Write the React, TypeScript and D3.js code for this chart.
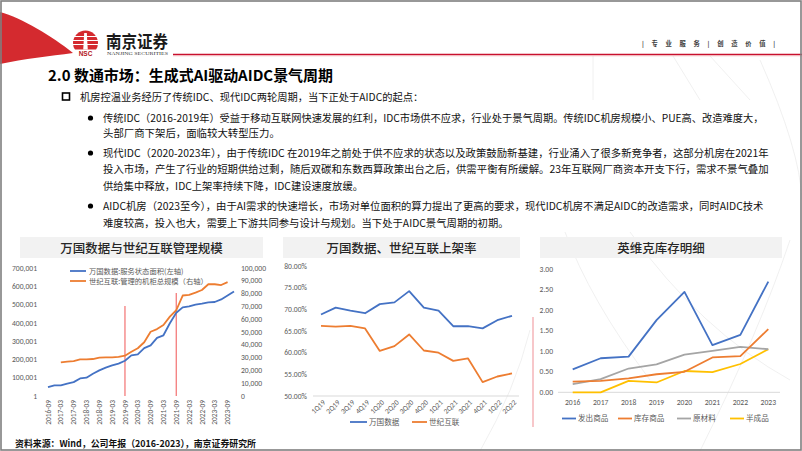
import React, { useEffect } from 'react';
import * as d3 from 'd3';

const FONT = '"Noto Sans CJK SC", "Noto Sans", sans-serif';
const LATIN = 'Calibri, "Liberation Sans", "Noto Sans", sans-serif';

// ---------- Chart 1: 万国数据与世纪互联管理规模 ----------
const c1Quarters = [
  '2016-09', '2016-12', '2017-03', '2017-06', '2017-09', '2017-12', '2018-03', '2018-06',
  '2018-09', '2018-12', '2019-03', '2019-06', '2019-09', '2019-12', '2020-03', '2020-06',
  '2020-09', '2020-12', '2021-03', '2021-06', '2021-09', '2021-12', '2022-03', '2022-06',
  '2022-09', '2022-12', '2023-03', '2023-06', '2023-09', '2023-12',
];
const c1TickLabels = [
  '2016-09', '2017-03', '2017-09', '2018-03', '2018-09', '2019-03', '2019-09', '2020-03',
  '2020-09', '2021-03', '2021-09', '2022-03', '2022-09', '2023-03', '2023-09',
];
// 万国数据: 服务状态面积 (左轴, 平方米)
const c1Wanguo = [
  48000, 58000, 58000, 68000, 76000, 96000, 100000, 122000,
  140000, 155000, 167000, 177000, 193000, 222000, 228000, 262000,
  277000, 318000, 332000, 398000, 455000, 485000, 490000, 500000,
  505000, 512000, 514000, 528000, 550000, 572000,
];
// 世纪互联: 管理的机柜总规模 (右轴, 个)
const c1Century = [
  null, null, 26300, 26800, 27300, 28600, 28600, 28900,
  30000, 30200, 30200, 30500, 31500, 34600, 37300, 42000,
  50200, 52300, 55500, 62000, 67000, 78500, 79000, 80800,
  82800, 87300, 87300, 86700, 89000, null,
];
const c1LeftTicks = [1, 100001, 200001, 300001, 400001, 500001, 600001, 700001];
const c1RightTicks = [0, 10000, 20000, 30000, 40000, 50000, 60000, 70000, 80000, 90000, 100000];
const c1Markers = ['2019-09', '2021-09'];
const c1Series = ['万国数据:服务状态面积(左轴)', '世纪互联:管理的机柜总规模（右轴）'];

// ---------- Chart 2: 万国数据、世纪互联上架率 ----------
const c2Quarters = ['1Q19', '2Q19', '3Q19', '4Q19', '1Q20', '2Q20', '3Q20', '4Q20', '1Q21', '2Q21', '3Q21', '4Q21', '1Q22', '2Q22'];
const c2Wanguo = [68.8, 70.4, 69.7, 69.1, 71.2, 71.6, 74.2, 70.4, 69.7, 66.1, 66.1, 65.6, 67.5, 68.5];
const c2Century = [66.2, 66.0, 66.2, 65.6, 60.4, 61.5, 64.2, 60.5, 60.0, 58.1, 58.7, 53.2, 54.5, 55.2];
const c2Ticks = [50, 55, 60, 65, 70, 75, 80];
const c2Series = ['万国数据', '世纪互联'];

// ---------- Chart 3: 英维克库存明细 ----------
const c3Years = ['2016', '2017', '2018', '2019', '2020', '2021', '2022', '2023'];
const c3Shipped = [0.56, 0.83, 0.87, 1.76, 2.45, 1.15, 1.40, 2.70];
const c3Stock = [0.26, 0.28, 0.34, 0.44, 0.50, 0.85, 0.88, 1.54];
const c3Raw = [0.20, 0.32, 0.58, 0.68, 0.92, 1.01, 1.11, 1.05];
const c3Semi = [0.00, 0.00, 0.28, 0.24, 0.52, 0.49, 0.69, 1.05];
const c3Ticks = [0, 0.5, 1, 1.5, 2, 2.5, 3];
const c3Series = ['发出商品', '库存商品', '原材料', '半成品'];

// ---------- Texts ----------
const headerRight = '|  专  业  服  务  |  创  造  价  值  |';
const pageTitle = '2.0 数通市场：生成式AI驱动AIDC景气周期';
const bodyLines = [
  '机房控温业务经历了传统IDC、现代IDC两轮周期，当下正处于AIDC的起点：',
  '传统IDC（2016-2019年）受益于移动互联网快速发展的红利，IDC市场供不应求，行业处于景气周期。传统IDC机房规模小、PUE高、改造难度大，',
  '头部厂商下架后，面临较大转型压力。',
  '现代IDC（2020-2023年），由于传统IDC 在2019年之前处于供不应求的状态以及政策鼓励新基建，行业涌入了很多新竞争者，这部分机房在2021年',
  '投入市场，产生了行业的短期供给过剩，随后双碳和东数西算政策出台之后，供需平衡有所缓解。23年互联网厂商资本开支下行，需求不景气叠加',
  '供给集中释放，IDC上架率持续下降，IDC建设速度放缓。',
  'AIDC机房（2023至今），由于AI需求的快速增长，市场对单位面积的算力提出了更高的要求，现代IDC机房不满足AIDC的改造需求，同时AIDC技术',
  '难度较高，投入也大，需要上下游共同参与设计与规划。当下处于AIDC景气周期的初期。',
];
const sourceText = '资料来源：Wind，公司年报（2016-2023），南京证券研究所';

const BLUE = '#4472C4';
const ORANGE = '#ED7D31';
const GRAY = '#A5A5A5';
const YELLOW = '#FFC000';
const AXIS_TXT = '#595959';

function fwCount(s: string) {
  let n = 0;
  for (const ch of s) n += ch.charCodeAt(0) < 256 ? 0.5 : 1;
  return n;
}

function Chart1() {
  const x = d3.scalePoint<string>().domain(c1Quarters).range([48, 234]);
  const yL = d3.scaleLinear().domain([1, 700001]).range([396, 268]);
  const yR = d3.scaleLinear().domain([0, 100000]).range([396, 268]);
  const fmt = d3.format(',');
  const lineL = d3.line<number>().x((_, i) => x(c1Quarters[i])!).y((d) => yL(d));
  const lineR = d3
    .line<number | null>()
    .defined((d) => d != null)
    .x((_, i) => x(c1Quarters[i])!)
    .y((d) => yR(d as number));
  return (
    <g>
      <rect x={20} y={237} width={243} height={21} fill="#f2f2f2" />
      <text x={141.5} y={252.5} textAnchor="middle" fontSize={12.5} fontFamily={FONT} fill="#262626" fontWeight={500}>
        万国数据与世纪互联管理规模
      </text>
      {c1LeftTicks.map((t) => (
        <text key={'l' + t} x={37} y={yL(t)} dy="0.35em" textAnchor="end" fontSize={7.6} fontFamily={LATIN} fill={AXIS_TXT}>
          {fmt(t)}
        </text>
      ))}
      {c1RightTicks.map((t) => (
        <text key={'r' + t} x={241} y={yR(t)} dy="0.35em" textAnchor="start" fontSize={7.6} fontFamily={LATIN} fill={AXIS_TXT}>
          {fmt(t)}
        </text>
      ))}
      {c1TickLabels.map((t) => (
        <text
          key={'x' + t}
          transform={`translate(${x(t)},400) rotate(-90)`}
          textAnchor="end"
          dy="0.35em"
          fontSize={7.4}
          fontFamily={LATIN}
          fill={AXIS_TXT}
        >
          {t}
        </text>
      ))}
      {c1Markers.map((m, i) => (
        <line key={m} x1={x(m)} x2={x(m)} y1={i === 0 ? 306 : 293} y2={396} stroke="#f47c7c" strokeWidth={1.3} />
      ))}
      <path d={lineR(c1Century) || ''} fill="none" stroke={ORANGE} strokeWidth={1.8} strokeLinejoin="round" />
      <path d={lineL(c1Wanguo) || ''} fill="none" stroke={BLUE} strokeWidth={1.8} strokeLinejoin="round" />
      <line x1={70} x2={86} y1={271} y2={271} stroke={BLUE} strokeWidth={1.8} />
      <text x={89} y={271} dy="0.35em" fontSize={7.3} fontFamily={FONT} fill={AXIS_TXT}>{c1Series[0]}</text>
      <line x1={70} x2={86} y1={281} y2={281} stroke={ORANGE} strokeWidth={1.8} />
      <text x={89} y={281} dy="0.35em" fontSize={7.3} fontFamily={FONT} fill={AXIS_TXT}>{c1Series[1]}</text>
    </g>
  );
}

function Chart2() {
  const x = d3.scalePoint<string>().domain(c2Quarters).range([321, 512]);
  const y = d3.scaleLinear().domain([50, 80]).range([396, 266]);
  const pct = (v: number) => v.toFixed(2) + '%';
  const line = d3.line<number>().x((_, i) => x(c2Quarters[i])!).y((d) => y(d));
  return (
    <g>
      <rect x={283} y={237} width={237} height={21} fill="#f2f2f2" />
      <text x={401.5} y={252.5} textAnchor="middle" fontSize={12.5} fontFamily={FONT} fill="#262626" fontWeight={500}>
        万国数据、世纪互联上架率
      </text>
      {c2Ticks.map((t) => (
        <text key={t} x={307} y={y(t)} dy="0.35em" textAnchor="end" fontSize={7.6} fontFamily={LATIN} fill={AXIS_TXT}>
          {pct(t)}
        </text>
      ))}
      <line x1={313} x2={519} y1={y(50)} y2={y(50)} stroke="#d9d9d9" strokeWidth={1} />
      {c2Quarters.map((q) => (
        <text
          key={q}
          transform={`translate(${x(q)! + 3},401) rotate(-45)`}
          textAnchor="end"
          dy="0.35em"
          fontSize={7.4}
          fontFamily={LATIN}
          fill={AXIS_TXT}
        >
          {q}
        </text>
      ))}
      <path d={line(c2Wanguo) || ''} fill="none" stroke={BLUE} strokeWidth={1.8} strokeLinejoin="round" />
      <path d={line(c2Century) || ''} fill="none" stroke={ORANGE} strokeWidth={1.8} strokeLinejoin="round" />
      <line x1={350} x2={367} y1={422} y2={422} stroke={BLUE} strokeWidth={1.8} />
      <text x={369} y={422} dy="0.35em" fontSize={7.6} fontFamily={FONT} fill={AXIS_TXT}>{c2Series[0]}</text>
      <line x1={412} x2={427} y1={422} y2={422} stroke={ORANGE} strokeWidth={1.8} />
      <text x={429} y={422} dy="0.35em" fontSize={7.6} fontFamily={FONT} fill={AXIS_TXT}>{c2Series[1]}</text>
    </g>
  );
}

function Chart3() {
  const x = d3.scalePoint<string>().domain(c3Years).range([572.7, 768.3]);
  const y = d3.scaleLinear().domain([0, 3]).range([392.3, 269.3]);
  const line = d3.line<number>().x((_, i) => x(c3Years[i])!).y((d) => y(d));
  const series = [
    { name: c3Series[0], data: c3Shipped, color: BLUE, lx: 562 },
    { name: c3Series[1], data: c3Stock, color: ORANGE, lx: 618 },
    { name: c3Series[2], data: c3Raw, color: GRAY, lx: 677 },
    { name: c3Series[3], data: c3Semi, color: YELLOW, lx: 730 },
  ];
  const drawOrder = [series[3], series[2], series[1], series[0]];
  return (
    <g>
      <rect x={540} y={237} width={242} height={21} fill="#f2f2f2" />
      <text x={661} y={252.5} textAnchor="middle" fontSize={12.5} fontFamily={FONT} fill="#262626" fontWeight={500}>
        英维克库存明细
      </text>
      {c3Ticks.map((t) => (
        <text key={t} x={553} y={y(t)} dy="0.35em" textAnchor="end" fontSize={7.6} fontFamily={LATIN} fill={AXIS_TXT}>
          {t.toFixed(2)}
        </text>
      ))}
      <line x1={558} x2={780} y1={y(0)} y2={y(0)} stroke="#d9d9d9" strokeWidth={1} />
      {c3Years.map((yr) => (
        <text key={yr} x={x(yr)} y={402} dy="0.35em" textAnchor="middle" fontSize={7.6} fontFamily={LATIN} fill={AXIS_TXT}>
          {yr}
        </text>
      ))}
      {drawOrder.map((s) => (
        <path key={s.name} d={line(s.data) || ''} fill="none" stroke={s.color} strokeWidth={1.8} strokeLinejoin="round" />
      ))}
      {series.map((s) => (
        <g key={'lg' + s.name}>
          <line x1={s.lx} x2={s.lx + 14} y1={418.5} y2={418.5} stroke={s.color} strokeWidth={1.8} />
          <text x={s.lx + 16} y={418.5} dy="0.35em" fontSize={7.6} fontFamily={FONT} fill={AXIS_TXT}>{s.name}</text>
        </g>
      ))}
    </g>
  );
}

function Header() {
  return (
    <g>
      <path d="M0,12 C 22,18 52,36 73,53 C 50,56 24,59 0,64 Z" fill="#d42a2f" />
      <defs>
        <clipPath id="logoClip">
          <rect x={72} y={28} width={28} height={21.5} />
        </clipPath>
      </defs>
      <g clipPath="url(#logoClip)">
        <circle cx={85.5} cy={43} r={12.5} fill="#d42a2f" />
        {[36.5, 40.5, 44.5].map((yy) => (
          <line key={yy} x1={72} x2={100} y1={yy} y2={yy} stroke="#fff" strokeWidth={1.2} />
        ))}
        <path d="M83.2,50 L84.2,33 L86.8,33 L87.8,50 Z" fill="#fff" />
      </g>
      <text x={85.5} y={55.5} textAnchor="middle" fontSize={6.5} fontWeight={700} fontFamily='"Liberation Sans", sans-serif' fill="#b3161b">
        NSC
      </text>
      <text x={106} y={47.5} fontSize={17} fontWeight={700} fontFamily={FONT} fill="#1a1a1a" textLength={62} lengthAdjust="spacingAndGlyphs">
        南京证券
      </text>
      <text x={107} y={55} fontSize={4.2} fontFamily='"Liberation Serif", serif' fill="#333" textLength={61} lengthAdjust="spacingAndGlyphs">
        NANJING SECURITIES
      </text>
      <line x1={173} x2={802} y1={54.5} y2={54.5} stroke="#c8102e" strokeWidth={1.5} />
      <line x1={173} x2={802} y1={55.8} y2={55.8} stroke="#f3b3b8" strokeWidth={0.8} />
      <text x={642} y={45.5} fontSize={6.3} fontWeight={700} fontFamily={FONT} fill="#404040" textLength={133} lengthAdjust="spacing">
        {headerRight}
      </text>
    </g>
  );
}

function Body() {
  const unit = 10.4;
  const rows = [
    { x: 80, y: 97, marker: 'box' },
    { x: 103, y: 118, marker: 'dot' },
    { x: 103, y: 133.5, marker: '' },
    { x: 103, y: 153, marker: 'dot' },
    { x: 103, y: 169.5, marker: '' },
    { x: 103, y: 186, marker: '' },
    { x: 103, y: 206, marker: 'dot' },
    { x: 103, y: 223, marker: '' },
  ];
  return (
    <g>
      <text x={48} y={80.5} fontSize={15} fontWeight={700} fontFamily={FONT} fill="#000" textLength={285} lengthAdjust="spacingAndGlyphs">
        {pageTitle}
      </text>
      {bodyLines.map((s, i) => {
        const r = rows[i];
        return (
          <g key={i}>
            {r.marker === 'box' && <rect x={62.5} y={r.y - 4} width={7} height={7} fill="none" stroke="#000" strokeWidth={1.6} />}
            {r.marker === 'dot' && <circle cx={90.5} cy={r.y} r={2.6} fill="#000" />}
            <text
              x={r.x}
              y={r.y}
              dy="0.36em"
              fontSize={10.5}
              fontFamily={FONT}
              fill="#111"
              textLength={fwCount(s) * unit}
              lengthAdjust="spacingAndGlyphs"
            >
              {s}
            </text>
          </g>
        );
      })}
    </g>
  );
}

function Decor() {
  return (
    <g fill="none" stroke="#ececec" strokeWidth={0.8}>
      <line x1={593} y1={56} x2={593} y2={100} />
      <line x1={673} y1={56} x2={700} y2={100} />
      <line x1={710} y1={56} x2={750} y2={100} />
      <path d="M760,60 Q 800,150 802,200" />
      <path d="M565,232 Q 590,300 650,380" />
      <path d="M630,232 Q 700,330 790,380" />
      <path d="M790,240 Q 760,330 700,451" />
      <path d="M530,330 Q 515,390 480,451" />
    </g>
  );
}

export default function App() {
  useEffect(() => {
    document.body.style.margin = '0';
  }, []);
  return (
    <svg width={802} height={451} viewBox="0 0 802 451" style={{ display: 'block', background: '#fff' }}>
      <rect x={0} y={0} width={802} height={451} fill="#fff" />
      <Decor />
      <Header />
      <Body />
      <Chart1 />
      <Chart2 />
      <Chart3 />
      <line x1={533} x2={533} y1={317} y2={427} stroke="#f5b5b8" strokeWidth={1.5} />
      <text x={15} y={444} dy="0.35em" fontSize={9.5} fontWeight={700} fontFamily={FONT} fill="#111" textLength={241} lengthAdjust="spacingAndGlyphs">
        {sourceText}
      </text>
      <rect x={1} y={1} width={800} height={449} fill="none" stroke="#7f7f7f" strokeWidth={1.6} />
    </svg>
  );
}
